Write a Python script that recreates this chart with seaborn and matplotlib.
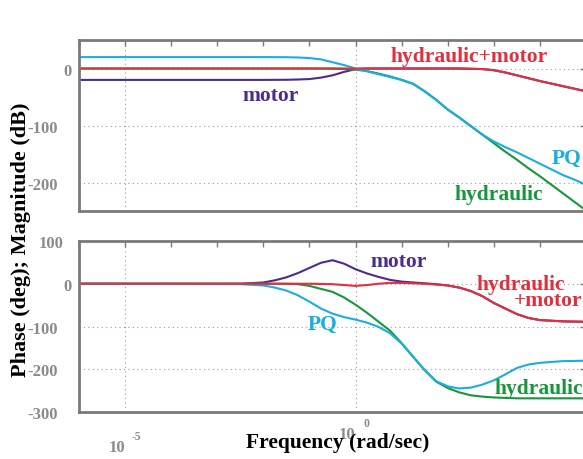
import matplotlib
matplotlib.use("Agg")
import matplotlib.pyplot as plt
import pandas as pd
import seaborn as sns
from matplotlib.ticker import FixedLocator, NullFormatter
from matplotlib.transforms import blended_transform_factory

# ---- data -------------------------------------------------------------
series = ["motor", "hydraulic", "PQ", "hydraulic+motor"]
palette = {
    "motor": "#4b2c8c",
    "hydraulic": "#17963c",
    "PQ": "#1aaee0",
    "hydraulic+motor": "#e0303f",
}

# magnitude samples, frequency given as log10(rad/sec)
mag_exp = [-6, -2, -1.5, -1.25, -1, -0.75, -0.5, -0.25, 0, 0.25, 0.5, 0.75,
           1, 1.25, 1.5, 1.75, 2, 2.25, 2.5, 2.75, 3, 3.25, 3.5, 3.75, 4,
           4.25, 4.5, 4.75, 5]
mag_motor = [-20, -20, -19.8, -19.3, -18.5, -16, -12, -6, -1, 0, 0, 0,
             0, 0, 0, 0, 0, 0, -0.5, -1, -3, -7, -12, -17, -22,
             -26.5, -31, -35.5, -40]
mag_hydraulic = [0, 0, 0, 0, 0, -0.1, -0.3, -0.8, -2, -4.5, -9, -14,
                 -20, -27, -40, -55, -72, -86, -101, -116, -131, -146, -160, -175, -189,
                 -204, -219, -234, -249]
mag_pq = [20, 20, 19.8, 19.3, 18.3, 16, 11, 6, 0, -5, -10, -15,
          -20, -27, -40, -55, -72, -86, -101, -116, -128, -138, -147, -157, -167,
          -177, -187, -195, -204]
mag_hm = [0, 0, 0, 0, 0, 0, 0, 0, 0, 0, 0, 0,
          0, 0, 0, 0, 0, 0, -0.5, -1, -3, -7, -12, -17, -22,
          -26.5, -31, -35.5, -40]

# phase samples
ph_exp = [-6, -2.5, -2, -1.75, -1.5, -1.25, -1, -0.75, -0.5, -0.25, 0, 0.25,
          0.5, 0.75, 1, 1.25, 1.5, 1.75, 2, 2.25, 2.5, 2.75, 3, 3.25, 3.5,
          3.75, 4, 4.5, 5]
ph_motor = [0, 0, 3, 8, 15, 25, 37, 49, 55, 47, 34, 24,
            16, 9, 5, 3, 1, -1, -4, -9, -17, -29, -45, -58, -71,
            -80, -85, -88, -89]
ph_hydraulic = [0, 0, 0, 0, 0, -1, -5, -12, -19, -32, -49, -68,
                -89, -110, -139, -171, -202, -229, -244, -254, -261, -264, -266, -267, -268,
                -268, -268, -268, -268]
ph_pq = [0, -1, -4, -9, -16, -27, -42, -58, -70, -78, -84, -91,
         -101, -116, -140, -171, -202, -228, -240, -245, -243, -236, -226, -212, -197,
         -189, -185, -181, -180]
ph_hm = [0, 0, 0, 0, 0, 0, 0, -0.5, -1, -3, -5, -3,
         0, 2, 2, 1, 0, -2, -4, -9, -17, -29, -45, -58, -71,
         -80, -85, -88, -89]

mag_yticks = [0, -100, -200]
ph_yticks = [100, 0, -100, -200, -300]
decade_exps = list(range(-6, 6))
label_exps = [-5, 0]


def long_frame(exps, columns):
    rows = []
    for name, vals in zip(series, columns):
        for e, v in zip(exps, vals):
            rows.append({"freq": 10.0 ** e, "value": v, "series": name})
    return pd.DataFrame(rows)


mag_df = long_frame(mag_exp, [mag_motor, mag_hydraulic, mag_pq, mag_hm])
ph_df = long_frame(ph_exp, [ph_motor, ph_hydraulic, ph_pq, ph_hm])

# ---- style ------------------------------------------------------------
sns.set_style("white")
plt.rcParams["font.family"] = ["Liberation Serif", "DejaVu Serif"]
plt.rcParams["font.weight"] = "bold"

GREY = "#8a8a8a"
SPINE = "#7a7a7a"

W, H = 583, 460
fig = plt.figure(figsize=(W / 100, H / 100), dpi=100)
ax_mag = fig.add_axes([79 / W, 1 - 212 / H, (586 - 79) / W, (212 - 41) / H])
ax_ph = fig.add_axes([79 / W, 1 - 413 / H, (586 - 79) / W, (413 - 242) / H])

# horizontal offset (points) of the value labels, by label length
ylabel_shift = {1: -5, 3: -11.5, 4: -15}

for ax, df, ylim, yticks in [
    (ax_mag, mag_df, (-250, 50), mag_yticks),
    (ax_ph, ph_df, (-300, 100), ph_yticks),
]:
    ax.set_xscale("log")
    sns.lineplot(data=df, x="freq", y="value", hue="series", hue_order=series,
                 palette=palette, legend=False, ax=ax, linewidth=1.5,
                 errorbar=None, sort=False)
    ax.set_xlim(1e-6, 1e5)
    ax.set_ylim(*ylim)
    ax.set_xlabel("")
    ax.set_ylabel("")
    ax.xaxis.set_major_locator(FixedLocator([10.0 ** e for e in label_exps + [5]]))
    ax.xaxis.set_minor_locator(FixedLocator([10.0 ** e for e in decade_exps]))
    ax.xaxis.set_major_formatter(NullFormatter())
    ax.xaxis.set_minor_formatter(NullFormatter())
    ax.set_yticks(yticks)
    ax.yaxis.set_major_formatter(NullFormatter())
    ax.grid(True, which="major", axis="both", linestyle=(0, (1, 3)),
            color="#9a9a9a", linewidth=0.8)
    ax.tick_params(axis="both", which="both", direction="in", top=True,
                   right=True, length=4, width=1, color=SPINE)
    for sp in ax.spines.values():
        sp.set_color(SPINE)
        sp.set_linewidth(2)

    ytrans = blended_transform_factory(ax.transAxes, ax.transData)
    for t in yticks:
        s = str(t)
        ax.annotate(s, xy=(0, t), xycoords=ytrans,
                    xytext=(ylabel_shift[len(s)], -1.5), textcoords="offset points",
                    ha="right", va="center", fontsize=12, color=GREY,
                    fontweight="bold", annotation_clip=False)

# decade labels under the phase axes
trans = blended_transform_factory(ax_ph.transData, ax_ph.transAxes)
label_drop = {-5: -25, 0: -16}
for e in label_exps:
    dy = label_drop[e]
    ax_ph.annotate("10", xy=(10.0 ** e, 0), xycoords=trans,
                   xytext=(-6, dy), textcoords="offset points",
                   ha="center", va="center", fontsize=12, color=GREY,
                   fontweight="bold", annotation_clip=False)
    ax_ph.annotate(str(e), xy=(10.0 ** e, 0), xycoords=trans,
                   xytext=(8, dy + 8), textcoords="offset points",
                   ha="center", va="center", fontsize=8.5, color=GREY,
                   fontweight="bold", annotation_clip=False)

# curve labels
txt = dict(fontsize=15.5, fontweight="bold", ha="center", va="center")
ax_mag.text(10 ** 2.46, 22, "hydraulic+motor", color=palette["hydraulic+motor"], **txt)
ax_mag.text(10 ** -1.85, -46, "motor", color=palette["motor"], **txt)
ax_mag.text(10 ** 4.57, -157, "PQ", color=palette["PQ"], **txt)
ax_mag.text(10 ** 3.11, -220, "hydraulic", color=palette["hydraulic"], **txt)

ax_ph.text(10 ** 0.93, 53, "motor", color=palette["motor"], **txt)
ax_ph.text(10 ** 3.59, 0, "hydraulic", color=palette["hydraulic+motor"], **txt)
ax_ph.text(10 ** 4.17, -39, "+motor", color=palette["hydraulic+motor"], **txt)
ax_ph.text(10 ** -0.72, -93, "PQ", color=palette["PQ"], **txt)
ax_ph.text(10 ** 3.97, -243, "hydraulic", color=palette["hydraulic"], **txt)

fig.text(21 / W, 1 - 240 / H, "Phase (deg); Magnitude (dB)", rotation=90,
         ha="center", va="center", fontsize=16, fontweight="bold", color="black")
fig.text(338 / W, 1 - 443 / H, "Frequency (rad/sec)", ha="center", va="center",
         fontsize=15.5, fontweight="bold", color="black")

fig.savefig("out.png", dpi=100, facecolor="white")
